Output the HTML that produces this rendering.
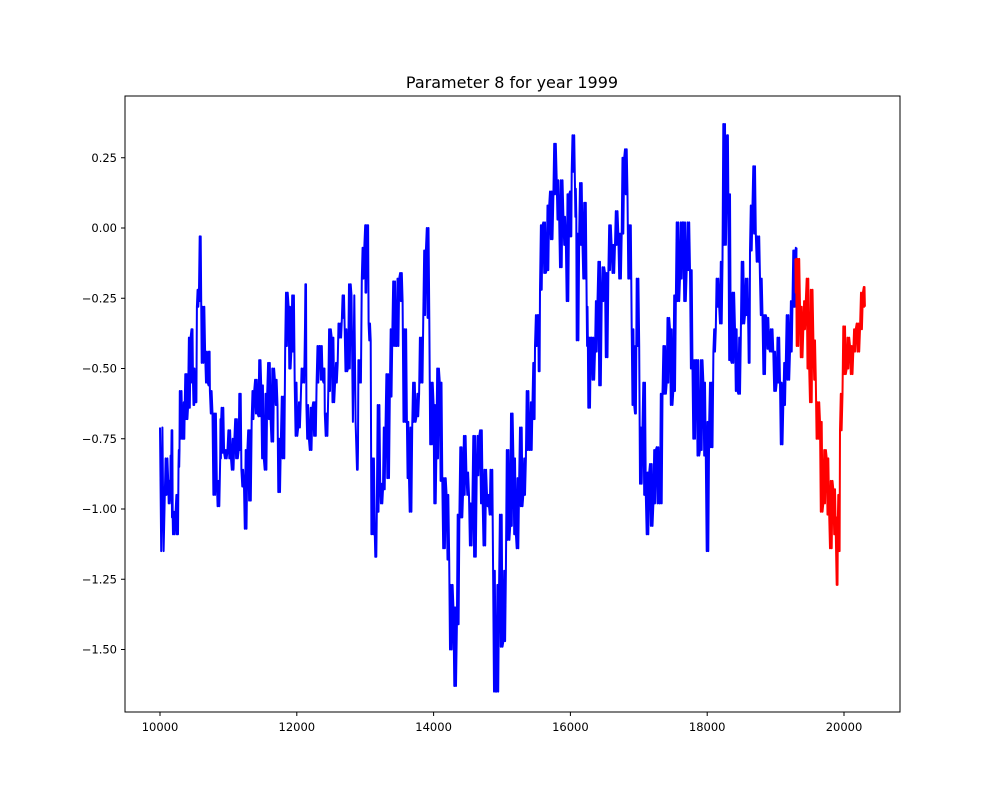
<!DOCTYPE html>
<html><head><meta charset="utf-8"><style>
body{margin:0;background:#fff;}
svg text{font-family:"DejaVu Sans","Liberation Sans",sans-serif;}
</style></head><body>
<svg id="chart" width="1000" height="800" xmlns="http://www.w3.org/2000/svg">
<rect width="1000" height="800" fill="#fff"/>
<text x="512" y="88" font-size="16" text-anchor="middle">Parameter 8 for year 1999</text>
<g id="marks"></g>
<rect x="125" y="96" width="775" height="616" fill="none" stroke="#000" stroke-width="1"/>
<g id="ticks"></g>
</svg>
<script>
const blueX=[10000,10070,10120,10150,10170,10190,10240,10270,10290,10340,10370,10410,10460,10490,10510,10540,10580,10610,10660,10710,10730,10780,10830,10880,10900,10950,11000,11050,11100,11150,11190,11240,11290,11340,11390,11440,11480,11530,11580,11630,11680,11730,11780,11830,11880,11920,11970,12020,12070,12120,12140,12190,12240,12290,12340,12390,12410,12460,12510,12560,12610,12660,12700,12750,12800,12880,12900,12950,13000,13020,13050,13090,13140,13170,13220,13260,13310,13360,13410,13460,13510,13560,13610,13650,13700,13750,13800,13850,13900,13950,14000,14040,14090,14140,14190,14240,14290,14340,14390,14430,14480,14530,14580,14630,14680,14730,14780,14820,14870,14920,14970,15020,15070,15120,15166,15215,15263,15312,15361,15410,15458,15483,15531,15556,15604,15653,15702,15751,15799,15848,15897,15946,15994,16019,16067,16092,16141,16189,16238,16262,16311,16360,16409,16457,16506,16555,16603,16652,16701,16750,16798,16847,16896,16945,16969,17018,17066,17115,17164,17213,17261,17310,17359,17408,17456,17505,17554,17602,17651,17700,17749,17797,17846,17895,17944,17992,18041,18090,18138,18187,18236,18285,18309,18358,18406,18455,18504,18553,18601,18626,18674,18723,18772,18821,18869,18918,18967,19016,19064,19113,19162,19211,19259,19290];
const blueHi=[-0.71,-0.82,-0.90,-0.81,-0.72,-1.01,-0.95,-0.79,-0.58,-0.62,-0.52,-0.39,-0.36,-0.50,-0.58,-0.22,-0.03,-0.28,-0.44,-0.44,-0.58,-0.66,-0.90,-0.68,-0.64,-0.79,-0.72,-0.75,-0.68,-0.59,-0.86,-0.79,-0.72,-0.58,-0.54,-0.47,-0.56,-0.59,-0.48,-0.50,-0.54,-0.75,-0.60,-0.23,-0.28,-0.24,-0.55,-0.62,-0.50,-0.20,-0.63,-0.64,-0.62,-0.42,-0.42,-0.50,-0.66,-0.36,-0.39,-0.48,-0.34,-0.24,-0.36,-0.20,-0.24,-0.78,-0.47,-0.07,0.01,0.01,-0.34,-0.82,-1.09,-0.63,-0.91,-0.71,-0.52,-0.36,-0.19,-0.18,-0.16,-0.36,-0.69,-0.71,-0.55,-0.59,-0.39,-0.08,0.00,-0.55,-0.63,-0.50,-0.55,-0.89,-0.95,-1.27,-1.35,-1.02,-0.78,-0.74,-0.87,-0.98,-0.74,-0.74,-0.72,-0.86,-0.95,-0.86,-1.22,-1.27,-1.02,-1.22,-0.79,-0.66,-0.82,-0.89,-0.71,-0.82,-0.58,-0.62,-0.48,-0.31,-0.31,0.01,0.02,0.08,0.13,0.30,0.17,0.17,0.04,0.12,0.13,0.33,0.14,-0.02,0.16,0.09,-0.28,-0.39,-0.39,-0.26,-0.12,-0.14,-0.16,0.01,-0.06,0.06,-0.02,0.25,0.28,0.01,-0.36,-0.42,-0.18,-0.71,-0.55,-0.87,-0.84,-0.79,-0.78,-0.59,-0.42,-0.32,-0.36,-0.24,0.02,0.02,0.02,0.02,-0.15,-0.47,-0.47,-0.47,-0.55,-0.69,-0.55,-0.36,-0.18,-0.12,0.37,0.33,0.12,-0.23,-0.36,-0.39,-0.12,-0.18,-0.36,0.08,0.22,-0.03,-0.18,-0.31,-0.32,-0.36,-0.44,-0.39,-0.55,-0.48,-0.31,-0.26,-0.08,-0.07];
const blueLo=[-1.15,-0.95,-0.98,-0.95,-1.03,-1.09,-1.09,-0.85,-0.75,-0.75,-0.68,-0.64,-0.55,-0.63,-0.62,-0.28,-0.26,-0.48,-0.55,-0.56,-0.66,-0.95,-0.99,-0.82,-0.80,-0.82,-0.82,-0.86,-0.82,-0.79,-0.92,-1.07,-0.97,-0.68,-0.66,-0.67,-0.82,-0.86,-0.68,-0.76,-0.63,-0.94,-0.82,-0.42,-0.50,-0.44,-0.74,-0.71,-0.55,-0.35,-0.75,-0.79,-0.74,-0.55,-0.54,-0.55,-0.74,-0.58,-0.62,-0.55,-0.39,-0.32,-0.51,-0.50,-0.69,-0.86,-0.55,-0.18,-0.23,-0.10,-0.40,-1.09,-1.17,-1.01,-0.98,-0.93,-0.89,-0.60,-0.42,-0.42,-0.26,-0.69,-0.89,-1.01,-0.69,-0.67,-0.55,-0.31,-0.32,-0.77,-0.98,-0.82,-0.90,-1.14,-1.18,-1.50,-1.63,-1.41,-1.03,-0.95,-0.95,-1.13,-1.17,-0.88,-0.98,-1.13,-0.99,-1.02,-1.65,-1.65,-1.49,-1.47,-1.11,-1.06,-1.09,-1.14,-0.99,-0.95,-0.79,-0.79,-0.68,-0.42,-0.51,-0.22,-0.16,-0.15,-0.04,0.12,0.03,-0.14,-0.06,-0.26,-0.03,0.20,0.04,-0.40,-0.06,-0.18,-0.42,-0.64,-0.54,-0.44,-0.56,-0.26,-0.46,-0.15,-0.16,-0.06,-0.18,-0.02,0.12,-0.18,-0.63,-0.66,-0.42,-0.91,-0.95,-1.09,-1.06,-0.98,-0.98,-0.98,-0.59,-0.55,-0.63,-0.58,-0.26,-0.18,-0.26,-0.15,-0.50,-0.75,-0.81,-0.79,-0.81,-1.15,-0.78,-0.44,-0.28,-0.34,-0.06,0.12,-0.47,-0.48,-0.58,-0.59,-0.34,-0.31,-0.48,-0.08,-0.02,-0.12,-0.31,-0.52,-0.43,-0.44,-0.58,-0.55,-0.77,-0.63,-0.54,-0.44,-0.28,-0.23];
const redX=[19290,19308,19357,19405,19454,19503,19552,19600,19649,19698,19747,19795,19844,19893,19917,19941,19990,20039,20088,20136,20185,20234,20290];
const redHi=[-0.11,-0.11,-0.28,-0.26,-0.18,-0.22,-0.40,-0.62,-0.69,-0.79,-0.82,-0.90,-0.93,-1.03,-0.95,-0.59,-0.35,-0.39,-0.42,-0.36,-0.34,-0.23,-0.21];
const redLo=[-0.23,-0.42,-0.46,-0.36,-0.50,-0.62,-0.54,-0.75,-1.01,-0.98,-1.02,-1.14,-1.09,-1.27,-1.15,-0.72,-0.52,-0.50,-0.52,-0.44,-0.44,-0.36,-0.28];
const yTicks=[0.25,0,-0.25,-0.5,-0.75,-1.0,-1.25,-1.5];
const yTickLabels=["0.25","0.00","\u22120.25","\u22120.50","\u22120.75","\u22121.00","\u22121.25","\u22121.50"];
const xTicks=[10000,12000,14000,16000,18000,20000];
const xTickLabels=["10000","12000","14000","16000","18000","20000"];

const NS="http://www.w3.org/2000/svg";
function sx(x){return 160+(x-10000)*0.0684;}
function sy(v){return 228-v*281;}
function buildPath(xs,hi,lo){
  let pts=[];
  for(let i=0;i<xs.length;i++){
    const nx=i<xs.length-1?xs[i+1]:xs[i]+20;
    const w=nx-xs[i];
    const a=i%2===0?hi[i]:lo[i], b=i%2===0?lo[i]:hi[i];
    pts.push([xs[i],a]);
    pts.push([xs[i]+w*0.25,b]);
    pts.push([xs[i]+w*0.5,a]);
    pts.push([xs[i]+w*0.75,b]);
  }
  return pts.map((p,i)=>(i?'L':'M')+sx(p[0]).toFixed(1)+','+sy(p[1]).toFixed(1)).join(' ');
}
const marks=document.getElementById('marks');
const pb=document.createElementNS(NS,'path');
pb.setAttribute('d',buildPath(blueX,blueHi,blueLo));
pb.setAttribute('fill','none');pb.setAttribute('stroke','#0000ff');pb.setAttribute('stroke-width','2');pb.setAttribute('stroke-linejoin','round');


marks.appendChild(pb);
const pr=document.createElementNS(NS,'path');
pr.setAttribute('d',buildPath(redX,redHi,redLo));
pr.setAttribute('fill','none');pr.setAttribute('stroke','#ff0000');pr.setAttribute('stroke-width','2');pr.setAttribute('stroke-linejoin','round');


marks.appendChild(pr);

const tg=document.getElementById('ticks');
yTicks.forEach((v,i)=>{
  const y=sy(v);
  const l=document.createElementNS(NS,'line');
  l.setAttribute('x1',121);l.setAttribute('x2',125);l.setAttribute('y1',y);l.setAttribute('y2',y);l.setAttribute('stroke','#000');
  
  
  tg.appendChild(l);
  const t=document.createElementNS(NS,'text');
  t.setAttribute('x',117);t.setAttribute('y',y+4);t.setAttribute('font-size','11.5');t.setAttribute('text-anchor','end');
  t.textContent=yTickLabels[i];
  
  
  tg.appendChild(t);
});
xTicks.forEach((v,i)=>{
  const x=sx(v);
  const l=document.createElementNS(NS,'line');
  l.setAttribute('x1',x);l.setAttribute('x2',x);l.setAttribute('y1',712);l.setAttribute('y2',716);l.setAttribute('stroke','#000');
  
  
  tg.appendChild(l);
  const t=document.createElementNS(NS,'text');
  t.setAttribute('x',x);t.setAttribute('y',731);t.setAttribute('font-size','11.5');t.setAttribute('text-anchor','middle');
  t.textContent=xTickLabels[i];
  
  
  tg.appendChild(t);
});
</script>
</body></html>
